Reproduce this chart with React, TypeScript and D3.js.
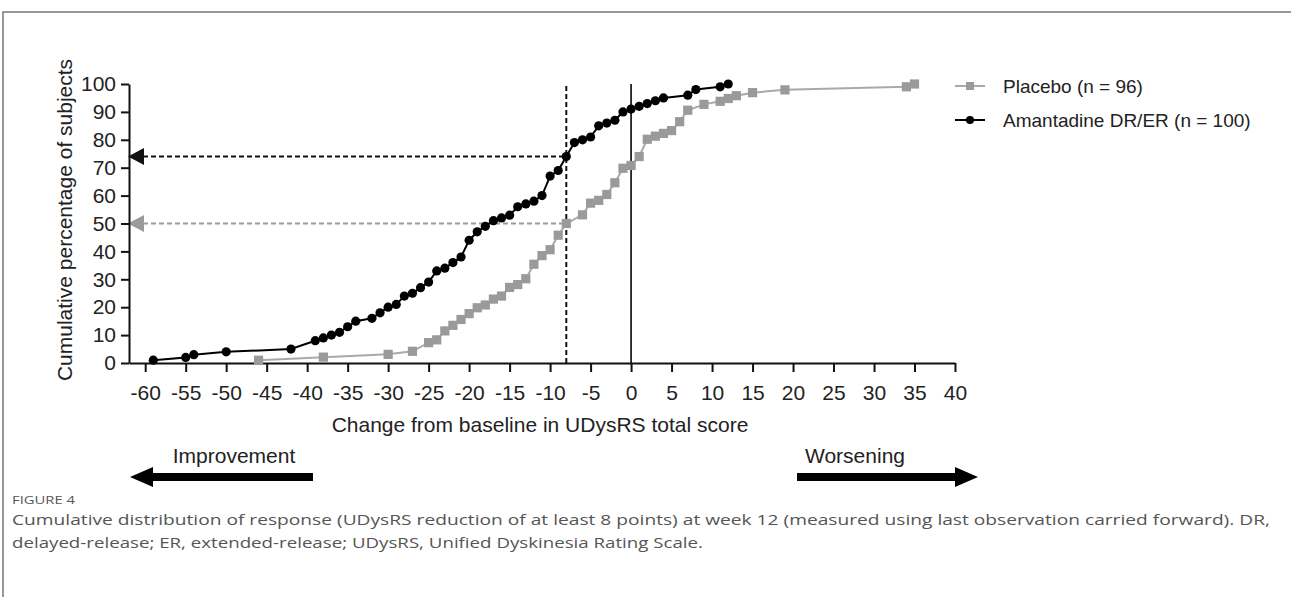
import React, { useEffect, useRef } from 'react';
import * as d3 from 'd3';

// cumulative distributions
const amantadineChange = [-59, -55, -54, -50, -42, -39, -38, -37, -36, -35, -34, -32, -31, -30, -29, -28, -27, -26, -25, -24, -23, -22, -21, -20, -19, -18, -17, -16, -15, -14, -13, -12, -11, -10, -9, -8, -7, -6, -5, -4, -3, -2, -1, 0, 1, 2, 3, 4, 7, 8, 11, 12];
const amantadinePct = [1, 2, 3, 4, 5, 8, 9, 10, 11, 13, 15, 16, 18, 20, 21, 24, 25, 27, 29, 33, 34, 36, 38, 44, 47, 49, 51, 52, 53, 56, 57, 58, 60, 67, 69, 74, 79, 80, 81, 85, 86, 87, 90, 91, 92, 93, 94, 95, 96, 98, 99, 100];

const placeboChange = [-46, -38, -30, -27, -25, -24, -23, -22, -21, -20, -19, -18, -17, -16, -15, -14, -13, -12, -11, -10, -9, -8, -6, -5, -4, -3, -2, -1, 0, 1, 2, 3, 4, 5, 6, 7, 9, 11, 12, 13, 15, 19, 34, 35];
const placeboPct = [1.0, 2.1, 3.1, 4.2, 7.3, 8.3, 11.5, 13.5, 15.6, 17.7, 19.8, 20.8, 22.9, 24.0, 27.1, 28.1, 30.2, 35.4, 38.5, 40.6, 45.8, 50.0, 53.1, 57.3, 58.3, 60.4, 64.6, 69.8, 70.8, 74.0, 80.2, 81.3, 82.3, 83.3, 86.5, 90.6, 92.7, 93.8, 94.8, 95.8, 96.9, 97.9, 99.0, 100];

const xTicks = [-60, -55, -50, -45, -40, -35, -30, -25, -20, -15, -10, -5, 0, 5, 10, 15, 20, 25, 30, 35, 40];
const yTicks = [0, 10, 20, 30, 40, 50, 60, 70, 80, 90, 100];

const cutoff = -8;
const amantadineAtCutoff = 74;
const placeboAtCutoff = 50;

const seriesLabels = ['Placebo (n = 96)', 'Amantadine DR/ER (n = 100)'];

const FONT = '"Liberation Sans", Arial, sans-serif';
const GREY_LINE = '#a9a9a9';
const GREY_MARK = '#9a9a9a';

export default function App() {
  const svgRef = useRef<SVGSVGElement>(null);

  useEffect(() => {
    document.body.style.margin = '0';
    if (!svgRef.current) return;
    const svg = d3.select(svgRef.current);
    svg.selectAll('*').remove();

    const width = 1291;
    const height = 597;
    svg.attr('width', width).attr('height', height);

    svg.append('rect').attr('width', width).attr('height', height).attr('fill', '#fff');

    // page frame
    svg.append('path')
      .attr('d', `M3,${height} L3,12 L${width},12`)
      .attr('fill', 'none')
      .attr('stroke', '#777')
      .attr('stroke-width', 1.5);

    const x = d3.scaleLinear().domain([-62, 40]).range([129, 955]);
    const y = d3.scaleLinear().domain([0, 100]).range([363, 84]);

    // reference lines
    svg.append('line')
      .attr('x1', x(cutoff)).attr('x2', x(cutoff))
      .attr('y1', y(0)).attr('y2', y(100))
      .attr('stroke', '#111').attr('stroke-width', 2).attr('stroke-dasharray', '5,3');
    svg.append('line')
      .attr('x1', x(0)).attr('x2', x(0))
      .attr('y1', y(0)).attr('y2', y(100))
      .attr('stroke', '#222').attr('stroke-width', 1.8);

    const refs = [
      { v: amantadineAtCutoff, color: '#111', w: 2 },
      { v: placeboAtCutoff, color: GREY_MARK, w: 1.8 },
    ];
    refs.forEach(r => {
      svg.append('line')
        .attr('x1', 143).attr('x2', x(cutoff))
        .attr('y1', y(r.v)).attr('y2', y(r.v))
        .attr('stroke', r.color).attr('stroke-width', r.w).attr('stroke-dasharray', '5,3');
      svg.append('path')
        .attr('d', `M128,${y(r.v)} L144,${y(r.v) - 8.5} L144,${y(r.v) + 8.5} Z`)
        .attr('fill', r.color);
    });

    // axes
    const xAxis = svg.append('g')
      .attr('transform', `translate(0,${y(0)})`)
      .call(d3.axisBottom(x).tickValues(xTicks).tickSize(9).tickSizeOuter(0).tickFormat(d => String(d)));
    const yAxis = svg.append('g')
      .attr('transform', `translate(${x.range()[0]},0)`)
      .call(d3.axisLeft(y).tickValues(yTicks).tickSize(8).tickSizeOuter(0).tickFormat(d => String(d)));
    [xAxis, yAxis].forEach(a => {
      a.select('.domain').attr('stroke', '#111').attr('stroke-width', 2);
      a.selectAll('.tick line').attr('stroke', '#111').attr('stroke-width', 2);
      a.selectAll('.tick text')
        .attr('fill', '#222')
        .attr('font-family', FONT)
        .attr('font-size', 21);
    });
    xAxis.selectAll('.tick text').attr('y', 22);
    yAxis.selectAll('.tick text').attr('x', -13);

    // axis titles
    svg.append('text')
      .attr('x', 540).attr('y', 432)
      .attr('text-anchor', 'middle')
      .attr('font-family', FONT).attr('font-size', 21).attr('fill', '#222')
      .text('Change from baseline in UDysRS total score');
    svg.append('text')
      .attr('transform', 'translate(64,220) rotate(-90)')
      .attr('text-anchor', 'middle')
      .attr('dominant-baseline', 'central')
      .attr('font-family', FONT).attr('font-size', 21).attr('fill', '#222')
      .text('Cumulative percentage of subjects');

    const line = d3.line<[number, number]>()
      .x(d => x(d[0]))
      .y(d => y(d[1]));

    // placebo
    const placebo: [number, number][] = placeboChange.map((c, i) => [c, placeboPct[i]]);
    svg.append('path')
      .datum(placebo)
      .attr('d', line)
      .attr('fill', 'none')
      .attr('stroke', GREY_LINE)
      .attr('stroke-width', 2);
    svg.append('g').selectAll('rect')
      .data(placebo)
      .join('rect')
      .attr('x', d => x(d[0]) - 4.6)
      .attr('y', d => y(d[1]) - 4.6)
      .attr('width', 9.2).attr('height', 9.2)
      .attr('fill', GREY_MARK);

    // amantadine
    const amantadine: [number, number][] = amantadineChange.map((c, i) => [c, amantadinePct[i]]);
    svg.append('path')
      .datum(amantadine)
      .attr('d', line)
      .attr('fill', 'none')
      .attr('stroke', '#000')
      .attr('stroke-width', 2);
    svg.append('g').selectAll('circle')
      .data(amantadine)
      .join('circle')
      .attr('cx', d => x(d[0]))
      .attr('cy', d => y(d[1]))
      .attr('r', 4.6)
      .attr('fill', '#000');

    // legend
    const legendY = [86, 120];
    seriesLabels.forEach((label, i) => {
      const ly = legendY[i];
      const color = i === 0 ? GREY_LINE : '#000';
      svg.append('line')
        .attr('x1', 955).attr('x2', 985)
        .attr('y1', ly).attr('y2', ly)
        .attr('stroke', color).attr('stroke-width', 2);
      if (i === 0) {
        svg.append('rect')
          .attr('x', 966).attr('y', ly - 4).attr('width', 8).attr('height', 8)
          .attr('fill', GREY_MARK);
      } else {
        svg.append('circle').attr('cx', 970).attr('cy', ly).attr('r', 4).attr('fill', '#000');
      }
      svg.append('text')
        .attr('x', 1003).attr('y', ly)
        .attr('dominant-baseline', 'central')
        .attr('font-family', FONT).attr('font-size', 19).attr('fill', '#222')
        .text(label);
    });

    // direction arrows
    svg.append('path')
      .attr('d', 'M130,477 L153,467 L153,473 L313,473 L313,481 L153,481 L153,487 Z')
      .attr('fill', '#000');
    svg.append('path')
      .attr('d', 'M978,477 L955,467 L955,473 L797,473 L797,481 L955,481 L955,487 Z')
      .attr('fill', '#000');
    svg.append('text')
      .attr('x', 234).attr('y', 463)
      .attr('text-anchor', 'middle')
      .attr('font-family', FONT).attr('font-size', 21).attr('fill', '#222')
      .text('Improvement');
    svg.append('text')
      .attr('x', 855).attr('y', 463)
      .attr('text-anchor', 'middle')
      .attr('font-family', FONT).attr('font-size', 21).attr('fill', '#222')
      .text('Worsening');

    // caption
    svg.append('text')
      .attr('x', 12).attr('y', 504)
      .attr('font-family', '"Open Sans", sans-serif').attr('font-size', 11)
      .attr('fill', '#555')
      .attr('textLength', 63).attr('lengthAdjust', 'spacingAndGlyphs')
      .text('FIGURE 4');
    svg.append('text')
      .attr('x', 12).attr('y', 525)
      .attr('font-family', '"Open Sans", sans-serif').attr('font-size', 15)
      .attr('fill', '#555')
      .attr('textLength', 1258).attr('lengthAdjust', 'spacingAndGlyphs')
      .text('Cumulative distribution of response (UDysRS reduction of at least 8 points) at week 12 (measured using last observation carried forward). DR,');
    svg.append('text')
      .attr('x', 12).attr('y', 548)
      .attr('font-family', '"Open Sans", sans-serif').attr('font-size', 15)
      .attr('fill', '#555')
      .attr('textLength', 691).attr('lengthAdjust', 'spacingAndGlyphs')
      .text('delayed-release; ER, extended-release; UDysRS, Unified Dyskinesia Rating Scale.');
  }, []);

  return <svg ref={svgRef} style={{ display: 'block' }} />;
}
